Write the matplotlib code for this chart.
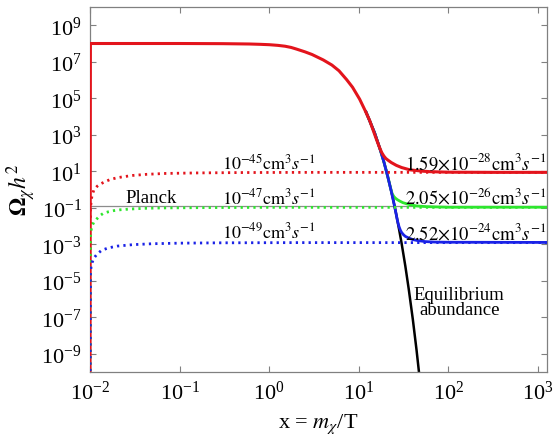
import numpy as np
import matplotlib
matplotlib.use("Agg")
import matplotlib.pyplot as plt

plt.rcParams['font.family'] = ['Liberation Serif', 'DejaVu Serif']
plt.rcParams['mathtext.fontset'] = 'stix'

# ------- valores -------
# solucion numerica (linea continua), sigma v para Omega h^2 ~ 0.12, etc.
red_x = [0.01, 0.0101, 0.03, 0.1, 0.3, 0.6, 0.8, 1.0, 1.25, 1.5, 1.75, 2.0, 2.5,
         3.0, 4.0, 5.0, 6.0, 7.3, 8.5, 10.2, 11.7, 13.2, 15.7, 17.0, 18.0, 19.0,
         20.0, 21.2, 23.0, 26.2, 30.0, 37.0, 50.0, 62.0, 100.0, 300.0, 1250.0]
red_y = [1e-11, 1.0e8, 1.0e8, 1.0e8, 9.8e7, 9.4e7, 9.0e7, 8.6e7, 7.9e7, 7.1e7,
         6.1e7, 5.0e7, 3.5e7, 2.5e7, 1.26e7, 6.6e6, 3.2e6, 1.05e6, 4.0e5, 8.9e4,
         2.2e4, 6.0e3, 5.6e2, 2.0e2, 1.05e2, 68, 50, 40, 30, 21, 16, 12, 10.2,
         9.5, 8.9, 8.7, 8.7]

green_x = [12, 15, 17, 19, 21, 22.5, 23.5, 24.5, 25.5, 26.8, 28.5, 31, 34, 37,
           44, 57, 100, 1250]
green_y = [1.8e4, 1.26e3, 2.0e2, 33, 5.1, 1.29, 0.60, 0.42, 0.34, 0.28, 0.234,
           0.19, 0.166, 0.148, 0.126, 0.115, 0.107, 0.107]

blue_x = [12, 15, 17, 19, 21, 23, 25, 27, 28, 29, 30, 31.5, 33, 36, 40, 45, 55,
          70, 100, 1250]
blue_y = [1.8e4, 1.26e3, 2.0e2, 33, 5.1, 0.79, 0.123, 0.0186, 9.5e-3, 6.0e-3,
          4.4e-3, 3.3e-3, 2.7e-3, 2.2e-3, 1.8e-3, 1.6e-3, 1.4e-3, 1.32e-3,
          1.29e-3, 1.26e-3]

eq_x = [12, 15, 18, 20, 22, 24, 26, 28, 30, 33, 36, 40, 44, 48]
eq_y = [1.8e4, 1.26e3, 83, 13.2, 2.0, 0.32, 0.048, 7.2e-3, 1.1e-3, 6.3e-5,
        3.5e-6, 7.6e-8, 1.6e-9, 3.3e-11]

# curvas punteadas (sigma v constante)
red_dot_x = [0.01, 0.0101, 0.0105, 0.011, 0.012, 0.0129, 0.0145, 0.0167, 0.02,
             0.0235, 0.03, 0.043, 0.07, 0.155, 0.5, 3, 30, 1250]
red_dot_y = [1e-11, 0.1, 0.45, 0.9, 1.5, 1.95, 2.6, 3.5, 4.4, 5.0, 5.9, 6.8,
             7.6, 8.1, 8.5, 8.7, 8.7, 8.7]

green_dot_x = [0.01, 0.0101, 0.0104, 0.011, 0.0119, 0.013, 0.0141, 0.016,
               0.0182, 0.022, 0.0279, 0.04, 0.066, 0.2, 1, 10, 1250]
green_dot_y = [1e-11, 2.5e-3, 8.9e-3, 0.0158, 0.0245, 0.038, 0.050, 0.060,
               0.069, 0.078, 0.085, 0.093, 0.098, 0.102, 0.105, 0.105, 0.105]

blue_dot_x = [0.01, 0.0101, 0.0103, 0.0109, 0.0119, 0.0135, 0.016, 0.02, 0.03,
              0.05, 0.1, 0.3, 2, 1250]
blue_dot_y = [1e-11, 2.5e-5, 6.8e-5, 1.58e-4, 2.8e-4, 4.7e-4, 6.3e-4, 7.9e-4,
              9.5e-4, 1.07e-3, 1.15e-3, 1.2e-3, 1.23e-3, 1.23e-3]

planck = 0.12

dot_labels = [r'$10^{-45}\mathrm{cm}^3s^{-1}$', r'$10^{-47}\mathrm{cm}^3s^{-1}$',
              r'$10^{-49}\mathrm{cm}^3s^{-1}$']
dot_label_y = [13.2, 0.18, 2.45e-3]
sol_labels = [r'$1.59{\times}10^{-28}\mathrm{cm}^3s^{-1}$',
              r'$2.05{\times}10^{-26}\mathrm{cm}^3s^{-1}$',
              r'$2.52{\times}10^{-24}\mathrm{cm}^3s^{-1}$']
sol_label_y = [13.2, 0.162, 1.95e-3]

ROJO = '#e3141c'
VERDE = '#2ee62e'
AZUL = '#1a22e6'

# ------- Rutina para graficacion -------
fig = plt.figure(figsize=(5.54, 4.35), dpi=100)
ax = fig.add_axes([0.1625, 0.1425, 0.8245, 0.8391])

ax.axhline(planck, color='#8c8c8c', lw=0.9, zorder=1)

ax.plot(eq_x, eq_y, color='black', lw=1.8, zorder=2)
ax.plot(green_x, green_y, color=VERDE, lw=2.0, zorder=3)
ax.plot(blue_x, blue_y, color=AZUL, lw=2.0, zorder=4)
ax.plot(red_x, red_y, color=ROJO, lw=2.2, zorder=5)

punteado = (0, (0.8, 1.5))
ax.plot(red_dot_x, red_dot_y, color=ROJO, lw=2.0, ls=punteado, zorder=6)
ax.plot(green_dot_x, green_dot_y, color=VERDE, lw=2.0, ls=punteado, zorder=6)
ax.plot(blue_dot_x, blue_dot_y, color=AZUL, lw=2.0, ls=punteado, zorder=6)

for lab, yy in zip(dot_labels, dot_label_y):
    ax.text(0.296, yy, lab, fontsize=13, ha='left', va='baseline', zorder=7)
for lab, yy in zip(sol_labels, sol_label_y):
    ax.text(32.5, yy, lab, fontsize=13.4, ha='left', va='baseline', zorder=7)
ax.text(0.048, 0.20, 'Planck', fontsize=13.5, ha='center', va='baseline')
ax.text(132, 1.55e-7, 'Equilibrium\nabundance', fontsize=13.5, ha='center',
        va='baseline', multialignment='center', linespacing=0.85)

ax.set_xscale('log')
ax.set_yscale('log')
ax.set_xlim(0.01, 1250)
ax.set_ylim(1e-10, 1e10)
ax.set_xticks([1e-2, 1e-1, 1e0, 1e1, 1e2, 1e3])
ax.set_yticks([1e-9, 1e-7, 1e-5, 1e-3, 1e-1, 1e1, 1e3, 1e5, 1e7, 1e9])
ax.minorticks_off()
ax.tick_params(which='both', direction='in', top=True, right=True,
               length=4.5, width=0.8, color='#808080', labelsize=16, pad=6)
for s in ax.spines.values():
    s.set_color('#808080')
    s.set_linewidth(0.9)

ax.set_xlabel(r'x = $m_\chi$/T', fontsize=16, labelpad=6)
ax.set_ylabel(r'$\mathbf{\Omega}_{\chi}h^2$', fontsize=17, labelpad=2)

fig.savefig('out.png', dpi=100)
